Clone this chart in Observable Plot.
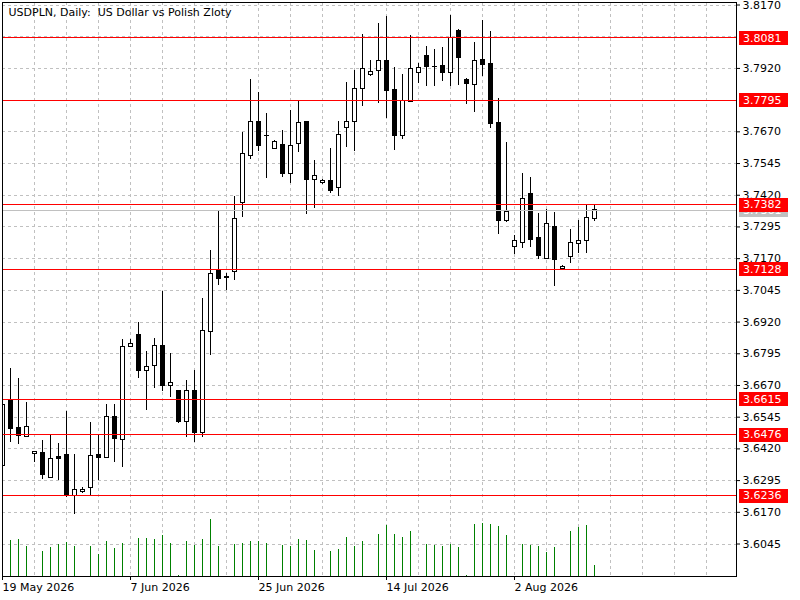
<!DOCTYPE html>
<html><head><meta charset="utf-8">
<script src="https://cdn.jsdelivr.net/npm/d3@7"></script>
<script src="https://cdn.jsdelivr.net/npm/@observablehq/plot@0.6"></script>
<style>
html,body{margin:0;padding:0;background:#fff;overflow:hidden;}
</style></head><body><div id="chart"></div>
<script>
const title = "USDPLN, Daily:  US Dollar vs Polish Zloty";

const opens = [3.6351,3.6608,3.6501,3.6467,3.6398,3.6405,3.6307,3.6387,3.6395,3.6236,
3.6250,3.6267,3.6395,3.6386,3.6547,3.6455,3.6820,3.6868,3.6729,3.6745,
3.6825,3.6668,3.6647,3.6526,3.6650,3.6483,3.6881,3.7121,3.7096,3.7116,
3.7388,3.7573,3.7707,3.7655,3.7601,3.7617,3.7505,3.7624,3.7707,3.7482,
3.7467,3.7478,3.7447,3.7684,3.7707,3.7837,3.7893,3.7908,3.7948,3.7835,
3.7654,3.7789,3.7901,3.7968,3.7927,3.7929,3.7903,3.8067,3.7874,3.7856,
3.7952,3.7937,3.7705,3.7319,3.7214,3.7232,3.7424,3.7251,3.7169,3.7294,
3.7130,3.7177,3.7226,3.7238,3.7327];
const highs = [3.6600,3.6738,3.6699,3.6604,3.6409,3.6454,3.6471,3.6441,3.6568,3.6399,
3.6269,3.6525,3.6474,3.6596,3.6596,3.6852,3.6851,3.6918,3.6805,3.6856,
3.7042,3.6796,3.6650,3.6691,3.6730,3.7013,3.7204,3.7356,3.7113,3.7417,
3.7666,3.7878,3.7827,3.7744,3.7637,3.7677,3.7756,3.7791,3.7712,3.7558,
3.7484,3.7606,3.7712,3.7866,3.7911,3.8052,3.7953,3.8099,3.8123,3.7924,
3.7898,3.8048,3.7940,3.8008,3.7993,3.8004,3.8128,3.8075,3.7881,3.8021,
3.8108,3.8067,3.7803,3.7626,3.7263,3.7505,3.7488,3.7349,3.7365,3.7353,
3.7144,3.7286,3.7322,3.7378,3.7385];
const lows = [3.6344,3.6447,3.6439,3.6463,3.6367,3.6301,3.6307,3.6296,3.6228,3.6163,
3.6246,3.6233,3.6296,3.6386,3.6367,3.6345,3.6820,3.6699,3.6570,3.6659,
3.6648,3.6621,3.6522,3.6463,3.6447,3.6463,3.6790,3.7063,3.7046,3.7082,
3.7331,3.7560,3.7591,3.7485,3.7601,3.7489,3.7468,3.7587,3.7344,3.7366,
3.7463,3.7426,3.7415,3.7607,3.7594,3.7769,3.7887,3.7781,3.7721,3.7598,
3.7639,3.7789,3.7861,3.7848,3.7848,3.7867,3.7848,3.7854,3.7776,3.7748,
3.7890,3.7682,3.7264,3.7314,3.7188,3.7209,3.7213,3.7165,3.7169,3.7059,
3.7123,3.7149,3.7191,3.7189,3.7315];
const closes = [3.6592,3.6499,3.6469,3.6508,3.6409,3.6317,3.6382,3.6380,3.6238,3.6256,
3.6259,3.6391,3.6384,3.6547,3.6459,3.6820,3.6835,3.6727,3.6741,3.6824,
3.6668,3.6679,3.6526,3.6650,3.6483,3.6883,3.7108,3.7090,3.7095,3.7325,
3.7581,3.7707,3.7615,3.7653,3.7628,3.7505,3.7613,3.7703,3.7482,3.7494,
3.7478,3.7438,3.7656,3.7707,3.7837,3.7916,3.7905,3.7948,3.7832,3.7654,
3.7792,3.7916,3.7920,3.7927,3.7926,3.7903,3.8039,3.7962,3.7860,3.7948,
3.7935,3.7702,3.7319,3.7353,3.7238,3.7407,3.7244,3.7181,3.7305,3.7163,
3.7139,3.7230,3.7238,3.7329,3.7361];
const volumes = [33000,36000,37000,30000,0,25000,29000,32000,34000,30000,
0,30000,22000,35000,28000,33000,0,38000,38000,37000,
41000,33000,1000,35000,31000,37000,57000,30000,0,32000,
33000,35000,35000,33000,0,31000,30000,37000,36000,26000,
0,25000,27000,39000,30000,35000,0,42000,51000,42000,
39000,45000,0,32000,31000,30000,32000,29000,1000,52000,
53000,52000,50000,41000,0,32000,31000,30000,24000,29000,
0,45000,49000,51000,11000];

const dateTickIndex = [0,16,32,48,64];
const dateTickLabels = ["19 May 2026","7 Jun 2026","25 Jun 2026","14 Jul 2026","2 Aug 2026"];
const priceTicks = [3.6045,3.6170,3.6295,3.6420,3.6545,3.6670,3.6795,3.6920,3.7045,3.7170,3.7295,3.7420,3.7545,3.7670,3.7920,3.8170];
const gridPrices = [3.6045,3.6170,3.6295,3.6420,3.6545,3.6670,3.6795,3.6920,3.7045,3.7170,3.7295,3.7420,3.7545,3.7670,3.7795,3.7920,3.8045,3.8170];
const levelPositions = [3.8040,3.7795,3.7382,3.7128,3.6615,3.6476,3.6236];
const levelLabels = ["3.8081","3.7795","3.7382","3.7128","3.6615","3.6476","3.6236"];
const bidPrice = 3.7361;
const bidLabel = "3.7361";

const yDomain = [3.59169, 3.81799];
const xDomain = [0, 91.75];
const candles = opens.map((o,i)=>({i, o, h:highs[i], l:lows[i], c:closes[i], v:volumes[i]}));
const levels = levelPositions.map((p,k)=>({p, label:levelLabels[k]}));
const pricePerPx = (yDomain[1]-yDomain[0])/574;
const volToPrice = v => yDomain[0] + v/1000*pricePerPx;
const crisp = {shapeRendering:"crispEdges"};

const chart = Plot.plot({
  width:800, height:600,
  marginTop:2, marginLeft:2, marginRight:64, marginBottom:24,
  style:{fontFamily:"'DejaVu Sans', sans-serif", fontSize:"11px", background:"#fff", color:"#000"},
  x:{type:"linear", domain:xDomain},
  y:{domain:yDomain},
  color:{type:"identity"},
  marks:[
    Plot.ruleY(gridPrices, {stroke:"#c0c0c0", strokeDasharray:"3,3", ...crisp}),
    Plot.ruleX(d3.range(4, 92, 4), {stroke:"#c0c0c0", strokeDasharray:"3,3", ...crisp}),
    Plot.ruleX(candles.filter(d=>d.v>0), {x:"i", y1:yDomain[0], y2:d=>volToPrice(d.v), stroke:"#008000", clip:true, ...crisp}),
    Plot.ruleX(candles, {x:"i", y1:"l", y2:"h", stroke:"#000", clip:true, ...crisp}),
    Plot.rect(candles, {x1:d=>d.i-0.25, x2:d=>d.i+0.25, y1:"o", y2:"c", fill:d=>d.c>d.o?"#ffffff":"#000000", stroke:"#000", clip:true, ...crisp}),
    Plot.ruleY([bidPrice], {stroke:"#c0c0c0", ...crisp}),
    Plot.ruleY(levels, {y:"p", stroke:"#ff0000", ...crisp}),
    Plot.axisY({anchor:"right", ticks:priceTicks, tickSize:3, tickPadding:3, tickFormat:d=>d.toFixed(4), label:null}),
    Plot.axisX({ticks:dateTickIndex, tickFormat:i=>dateTickLabels[dateTickIndex.indexOf(i)], tickSize:4, tickPadding:3, textAnchor:"start", label:null}),
    Plot.ruleY([bidPrice], {insetLeft:736.5, insetRight:-51.5, strokeWidth:14, stroke:"#c0c0c0", ...crisp}),
    Plot.text([bidPrice], {y:d=>d, text:()=>bidLabel, frameAnchor:"right", dx:6.5, textAnchor:"start", fill:"#fff"}),
    Plot.ruleY(levels, {y:"p", insetLeft:736.5, insetRight:-51.5, strokeWidth:14, stroke:"#ff0000", ...crisp}),
    Plot.text(levels, {y:"p", text:"label", frameAnchor:"right", dx:6.5, textAnchor:"start", fill:"#fff"}),
    Plot.text([title], {frameAnchor:"top-left", dx:6, dy:9.5, textAnchor:"start", lineAnchor:"middle", fill:"#000"}),
    Plot.frame({stroke:"#000", ...crisp})
  ]
});
document.getElementById("chart").appendChild(chart);
d3.select(chart).selectAll("text").attr("xml:space","preserve");
</script></body></html>
